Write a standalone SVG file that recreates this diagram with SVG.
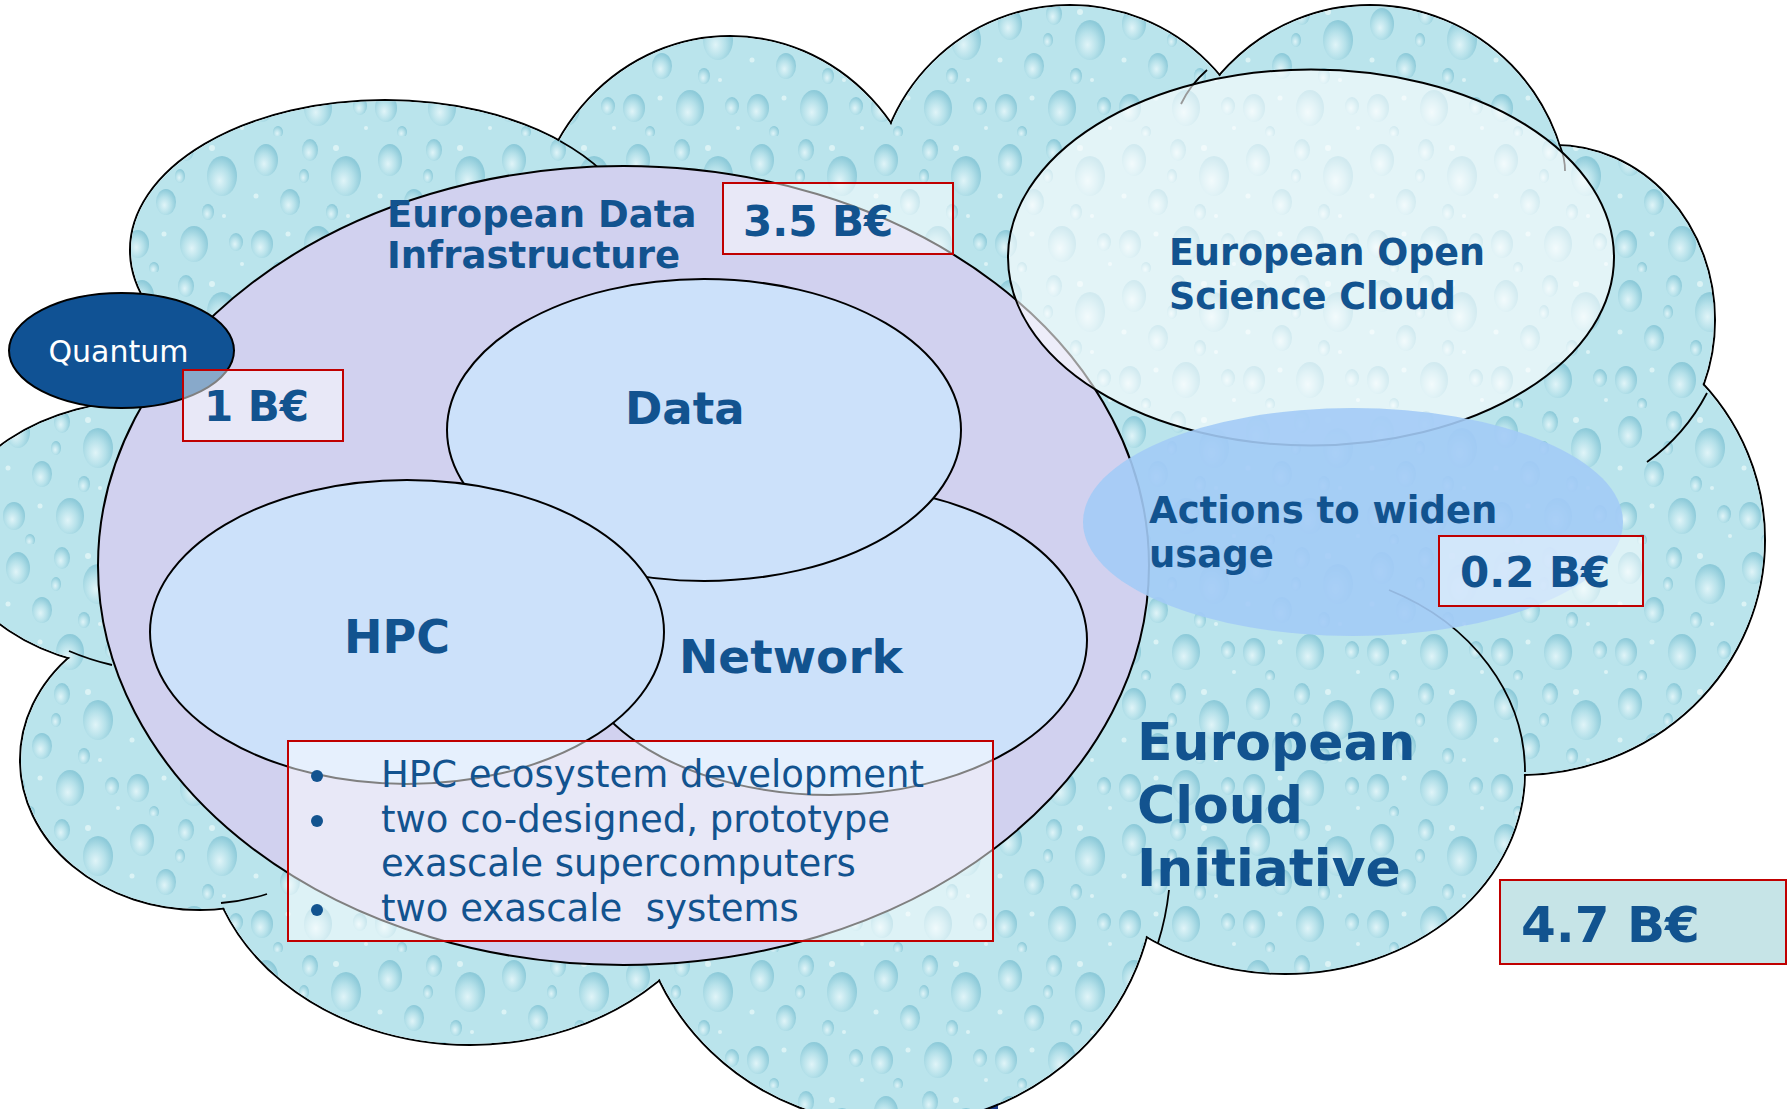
<svg xmlns="http://www.w3.org/2000/svg" width="1787" height="1109" viewBox="0 0 1787 1109">
<defs>
<radialGradient id="dg" cx="0.42" cy="0.62" r="0.6">
<stop offset="0" stop-color="#e6f7fa"/>
<stop offset="0.55" stop-color="#b4e0e9"/>
<stop offset="1" stop-color="#86c6d6"/>
</radialGradient>
<pattern id="drops" width="124" height="136" patternUnits="userSpaceOnUse">
<rect width="124" height="136" fill="#bae4ec"/>
<g fill="url(#dg)" fill-opacity="0.85">
<ellipse cx="18" cy="24" rx="12" ry="16"/>
<ellipse cx="62" cy="14" rx="8" ry="11"/>
<ellipse cx="98" cy="40" rx="15" ry="20"/>
<ellipse cx="42" cy="66" rx="10" ry="13"/>
<ellipse cx="14" cy="108" rx="11" ry="14"/>
<ellipse cx="70" cy="108" rx="14" ry="18"/>
<ellipse cx="112" cy="106" rx="7" ry="9"/>
<ellipse cx="56" cy="40" rx="5" ry="7"/>
<ellipse cx="84" cy="76" rx="6" ry="8"/>
<ellipse cx="30" cy="132" rx="5" ry="6"/>
</g>
<g fill="#e4f6f8" fill-opacity="0.8">
<circle cx="88" cy="12" r="3"/>
<circle cx="40" cy="98" r="2.5"/>
<circle cx="100" cy="80" r="2"/>
<circle cx="8" cy="60" r="2.5"/>
<circle cx="118" cy="128" r="2"/>
</g>
</pattern>
<style>
.ps{fill:none;stroke:#000;stroke-width:2}
.pf{fill:url(#drops);stroke:none}
.inner{fill:none;stroke:#000;stroke-width:1.8}
.bx{fill:#ffffff;fill-opacity:0.5;stroke:#c00000;stroke-width:2}
.t{font-family:"DejaVu Sans","Liberation Sans",sans-serif;fill:#12538f}
.b{font-weight:bold}
.el{stroke:#000;stroke-width:2}
</style>
</defs>
<rect x="0" y="0" width="1787" height="1109" fill="#ffffff"/>
<rect x="850" y="1088" width="148" height="21" fill="#1b3a8a"/>
<g id="cloud">
<g class="ps">
<ellipse cx="385" cy="250" rx="255" ry="150"/>
<ellipse cx="730" cy="250" rx="200" ry="214"/>
<ellipse cx="1070" cy="200" rx="195" ry="195"/>
<ellipse cx="1370" cy="210" rx="200" ry="205"/>
<ellipse cx="1555" cy="320" rx="160" ry="175"/>
<ellipse cx="1520" cy="540" rx="245" ry="235"/>
<ellipse cx="1285" cy="772" rx="240" ry="202"/>
<ellipse cx="895" cy="875" rx="260" ry="250"/>
<ellipse cx="470" cy="830" rx="265" ry="215"/>
<ellipse cx="200" cy="760" rx="180" ry="150"/>
<ellipse cx="150" cy="535" rx="200" ry="135"/>
</g>
<g class="pf">
<ellipse cx="385" cy="250" rx="254" ry="149"/>
<ellipse cx="730" cy="250" rx="199" ry="213"/>
<ellipse cx="1070" cy="200" rx="194" ry="194"/>
<ellipse cx="1370" cy="210" rx="199" ry="204"/>
<ellipse cx="1555" cy="320" rx="159" ry="174"/>
<ellipse cx="1520" cy="540" rx="244" ry="234"/>
<ellipse cx="1285" cy="772" rx="239" ry="201"/>
<ellipse cx="895" cy="875" rx="259" ry="249"/>
<ellipse cx="470" cy="830" rx="264" ry="214"/>
<ellipse cx="200" cy="760" rx="179" ry="149"/>
<ellipse cx="150" cy="535" rx="199" ry="134"/>
<polygon points="385,250 730,250 1070,200 1370,210 1555,320 1520,540 1285,772 895,875 470,830 200,760 150,535"/>
</g>
<g class="inner">
<path d="M1158,943 Q1166,918 1169,890"/>
<path d="M1389,590 A240,202 0 0 1 1525,772"/>
<path d="M1707,393 Q1685,435 1647,462"/>
<path d="M221,903 Q245,901 267,894"/>
<path d="M69,651 Q90,660 112,665"/>
<path d="M560,141 A255,150 0 0 1 630,208"/>
<path d="M1207,70 Q1190,85 1181,104"/>
<path d="M1560,146 Q1565,158 1565,171"/>
</g>
</g>
<g id="edi">
<ellipse class="el" cx="623.5" cy="565.5" rx="525.5" ry="399.5" fill="#d1d1ef"/>
</g>
<g id="network">
<ellipse class="el" cx="830" cy="640" rx="257" ry="155" fill="#cce1fa"/>
</g>
<g id="data">
<ellipse class="el" cx="704" cy="430" rx="257" ry="151" fill="#cce1fa"/>
</g>
<g id="hpc">
<ellipse class="el" cx="407" cy="632" rx="257" ry="152" fill="#cce1fa"/>
</g>
<g id="eosc">
<ellipse class="el" cx="1311" cy="257.5" rx="303" ry="188" fill="#ffffff" fill-opacity="0.6"/>
</g>
<g id="actions">
<ellipse cx="1353" cy="522" rx="270" ry="114" fill="#a3cbf6" fill-opacity="0.9"/>
</g>
<g id="quantum">
<ellipse class="el" cx="121.5" cy="350.5" rx="112.5" ry="57.5" fill="#105294"/>
<text x="118.5" y="362" text-anchor="middle" font-family="DejaVu Sans, Liberation Sans, sans-serif" font-size="30" fill="#ffffff">Quantum</text>
</g>
<g id="box-1b">
<rect class="bx" x="183" y="370" width="160" height="71"/>
<text class="t b" x="204" y="421" font-size="42">1 B€</text>
</g>
<g id="box-35b">
<rect class="bx" x="723" y="183" width="230" height="71"/>
<text class="t b" x="743" y="236" font-size="42">3.5 B€</text>
</g>
<g id="box-02b">
<rect class="bx" x="1439" y="536" width="204" height="70"/>
<text class="t b" x="1460" y="587" font-size="42">0.2 B€</text>
</g>
<g id="box-47b">
<rect x="1500" y="880" width="286" height="84" fill="#c6e4e7" stroke="#c00000" stroke-width="2"/>
<text class="t b" x="1521" y="942" font-size="50">4.7 B€</text>
</g>
<g id="hpc-list">
<rect class="bx" x="288" y="741" width="705" height="200"/>
<g fill="#12538f">
<circle cx="317" cy="776" r="6"/>
<circle cx="317" cy="821" r="6"/>
<circle cx="317" cy="910" r="6"/>
</g>
<text class="t" font-size="37">
<tspan x="381" y="787">HPC ecosystem development</tspan>
<tspan x="381" y="832">two co-designed, prototype</tspan>
<tspan x="381" y="876">exascale supercomputers</tspan>
<tspan x="381" y="921" xml:space="preserve">two exascale  systems</tspan>
</text>
</g>
<g id="labels">
<text class="t b" font-size="37"><tspan x="387" y="227">European Data</tspan><tspan x="387" y="268">Infrastructure</tspan></text>
<text class="t b" x="625" y="424" font-size="45">Data</text>
<text class="t b" x="344" y="653" font-size="46">HPC</text>
<text class="t b" x="679" y="673" font-size="47">Network</text>
<text class="t b" font-size="36.5"><tspan x="1169" y="265">European Open</tspan><tspan x="1169" y="309">Science Cloud</tspan></text>
<text class="t b" font-size="37"><tspan x="1149" y="523">Actions to widen</tspan><tspan x="1149" y="567">usage</tspan></text>
<text class="t b" font-size="52"><tspan x="1137" y="760">European</tspan><tspan x="1137" y="823">Cloud</tspan><tspan x="1137" y="886">Initiative</tspan></text>
</g>
</svg>
